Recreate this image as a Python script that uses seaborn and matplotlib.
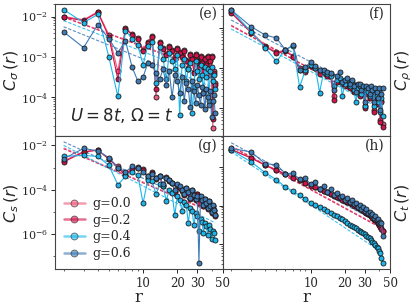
import numpy as np
import pandas as pd
import matplotlib
matplotlib.use("Agg")
import matplotlib.pyplot as plt
from matplotlib.lines import Line2D
from matplotlib.ticker import FixedLocator, NullFormatter, ScalarFormatter, LogLocator
import seaborn as sns

# --- DATA (log10 of the correlation values) ---
r = [2, 3, 4, 5, 6, 7, 8, 9, 10, 11,
     12, 13, 14, 15, 16, 17, 18, 19, 20, 21,
     22, 23, 24, 25, 26, 27, 28, 29, 30, 31,
     32, 33, 34, 35, 36, 37, 38, 39, 40, 41,
     42, 43]
g_labels = ["g=0.0", "g=0.2", "g=0.4", "g=0.6"]
colors = ["#ef5a7e", "#d3124a", "#1cb6ec", "#3f7bb6"]

# C_sigma(r)
sigma_g00 = [-2.00, -2.08, -1.88, -2.45, -3.35, -2.28, -2.43, -2.52, -2.82, -2.62,
             -2.48, -4.00, -2.62, -2.78, -2.92, -2.72, -2.82, -3.00, -2.78, -2.88,
             -2.98, -2.82, -3.08, -3.28, -2.92, -3.02, -3.38, -2.92, -3.08, -3.22,
             -2.98, -3.12, -3.30, -3.02, -3.18, -2.98, -3.40, -3.08, -2.98, -4.75,
             -3.35, -3.65]
sigma_g02 = [-2.02, -2.10, -1.90, -2.50, -3.55, -2.30, -2.45, -2.55, -2.85, -2.65,
             -2.50, -3.80, -2.65, -2.80, -2.95, -2.75, -2.85, -3.05, -2.80, -2.90,
             -3.00, -2.85, -3.10, -3.30, -2.95, -3.05, -3.40, -2.95, -3.10, -3.25,
             -3.00, -3.15, -3.35, -3.05, -3.20, -3.00, -3.45, -3.10, -3.00, -4.55,
             -3.40, -3.70]
sigma_g04 = [-1.83, -2.15, -1.95, -3.00, -3.98, -2.35, -2.55, -2.70, -3.20, -2.72,
             -2.62, -3.65, -2.75, -3.05, -3.55, -2.90, -3.10, -3.30, -2.95, -4.45,
             -3.20, -3.05, -3.60, -3.30, -3.15, -4.40, -3.75, -3.10, -3.35, -3.55,
             -3.20, -3.45, -3.90, -3.25, -3.50, -3.30, -4.10, -3.35, -3.25, -3.60,
             -3.45, -3.80]
sigma_g06 = [-2.38, -2.77, -2.20, -2.55, -2.90, -2.60, -3.25, -3.60, -3.50, -3.15,
             -3.20, -3.40, -3.55, -3.30, -3.70, -3.35, -4.00, -3.45, -3.60, -3.90,
             -3.50, -4.10, -3.65, -3.80, -4.25, -3.60, -3.85, -4.15, -3.70, -3.95,
             -4.20, -3.75, -3.90, -4.30, -3.80, -4.00, -4.20, -3.85, -4.50, -4.10,
             -3.95, -4.40]

# C_rho(r)
rho_g00 = [-0.60, -1.10, -1.45, -1.60, -1.56, -1.70, -2.00, -2.08, -1.93, -1.98,
           -2.12, -2.08, -2.18, -2.15, -2.70, -2.32, -2.28, -2.38, -2.42, -2.33,
           -2.48, -2.38, -2.58, -2.43, -2.52, -2.68, -2.48, -2.58, -2.95, -2.52,
           -2.62, -2.72, -2.58, -2.68, -3.05, -2.62, -2.72, -2.88, -2.68, -3.30,
           -2.82, -3.40]
rho_g02 = [-0.62, -1.12, -1.48, -1.62, -1.58, -1.72, -2.05, -2.10, -1.95, -2.00,
           -2.15, -2.10, -2.20, -2.18, -2.80, -2.35, -2.30, -2.40, -2.45, -2.35,
           -2.50, -2.40, -2.60, -2.45, -2.55, -2.70, -2.50, -2.60, -3.00, -2.55,
           -2.65, -2.75, -2.60, -2.70, -3.10, -2.65, -2.75, -2.90, -2.70, -3.35,
           -2.85, -3.48]
rho_g04 = [-0.55, -1.10, -1.50, -1.84, -1.55, -1.45, -2.48, -2.05, -1.92, -2.00,
           -2.62, -2.10, -2.15, -2.20, -2.45, -2.30, -2.25, -2.70, -2.40, -2.30,
           -2.45, -2.35, -2.55, -2.85, -2.50, -2.45, -2.65, -2.55, -2.95, -2.50,
           -2.60, -2.70, -2.55, -2.65, -2.95, -2.60, -2.70, -2.85, -2.60, -3.10,
           -2.75, -3.20]
rho_g06 = [-0.55, -0.97, -1.18, -1.25, -1.55, -1.43, -2.05, -1.98, -1.85, -1.95,
           -2.05, -2.05, -2.10, -2.12, -2.55, -2.20, -2.10, -2.35, -2.30, -2.25,
           -2.40, -2.30, -2.45, -2.60, -2.40, -2.40, -2.55, -2.45, -2.85, -2.45,
           -2.50, -2.65, -2.45, -2.55, -2.85, -2.50, -2.60, -2.75, -2.50, -3.05,
           -2.65, -2.50]

# C_s(r)
s_g00 = [-2.70, -2.28, -2.20, -2.60, -2.95, -3.30, -3.02, -2.98, -3.08, -3.40,
         -3.22, -3.48, -3.38, -3.80, -3.42, -3.58, -3.68, -4.05, -3.78, -3.88,
         -4.02, -4.20, -3.92, -4.12, -4.35, -4.02, -4.28, -4.42, -4.18, -4.55,
         -4.32, -4.48, -4.70, -4.42, -4.62, -4.80, -4.52, -4.78, -5.00, -4.72,
         -4.92, -5.15]
s_g02 = [-2.75, -2.30, -2.22, -2.62, -3.00, -3.35, -3.05, -3.00, -3.10, -3.45,
         -3.25, -3.50, -3.40, -3.85, -3.45, -3.60, -3.70, -4.10, -3.80, -3.90,
         -4.05, -4.25, -3.95, -4.15, -4.40, -4.05, -4.30, -4.45, -4.20, -4.60,
         -4.35, -4.50, -4.75, -4.45, -4.65, -4.85, -4.55, -4.80, -5.05, -4.75,
         -4.95, -5.20]
s_g04 = [-2.50, -2.45, -2.50, -2.90, -3.77, -3.40, -3.20, -3.35, -4.60, -3.55,
         -3.60, -4.20, -3.75, -3.85, -4.50, -4.00, -4.15, -5.15, -4.30, -4.45,
         -4.95, -4.55, -4.70, -5.50, -4.80, -4.95, -5.60, -5.05, -5.20, -5.85,
         -5.30, -5.45, -5.95, -5.50, -5.65, -6.05, -5.60, -5.75, -6.20, -5.85,
         -5.95, -6.25]
s_g06 = [-2.60, -2.14, -2.25, -2.55, -3.00, -3.20, -2.95, -3.00, -3.20, -3.40,
         -3.30, -3.45, -3.40, -3.75, -3.45, -3.55, -3.70, -4.00, -3.75, -3.85,
         -4.00, -4.20, -3.90, -4.10, -4.35, -4.00, -4.25, -4.40, -4.30, -7.30,
         -4.30, -4.45, -4.70, -4.40, -4.60, -4.80, -4.50, -4.75, -5.00, -4.70,
         -4.90, -5.15]

# C_t(r)
t_g00 = [-0.54, -0.76, -0.95, -1.07, -1.18, -1.27, -1.34, -1.41, -1.47, -1.52,
         -1.57, -1.61, -1.65, -1.69, -1.73, -1.77, -1.80, -1.84, -1.87, -1.90,
         -1.93, -1.96, -1.99, -2.01, -2.04, -2.07, -2.09, -2.12, -2.15, -2.18,
         -2.21, -2.24, -2.27, -2.30, -2.34, -2.37, -2.41, -2.45, -2.49, -2.54,
         -2.59, -2.65]
t_g02 = [-0.55, -0.77, -0.96, -1.08, -1.19, -1.28, -1.35, -1.42, -1.48, -1.53,
         -1.58, -1.62, -1.66, -1.70, -1.74, -1.78, -1.81, -1.85, -1.88, -1.91,
         -1.94, -1.97, -2.00, -2.02, -2.05, -2.08, -2.10, -2.13, -2.16, -2.19,
         -2.22, -2.25, -2.28, -2.31, -2.35, -2.38, -2.42, -2.46, -2.50, -2.55,
         -2.60, -2.67]
t_g04 = [-0.56, -0.87, -1.15, -1.33, -1.52, -1.63, -1.73, -1.82, -1.92, -1.98,
         -2.04, -2.10, -2.15, -2.20, -2.24, -2.28, -2.32, -2.36, -2.41, -2.45,
         -2.49, -2.52, -2.56, -2.59, -2.62, -2.65, -2.68, -2.71, -2.74, -2.78,
         -2.81, -2.85, -2.89, -2.93, -2.97, -3.01, -3.06, -3.11, -3.18, -3.24,
         -3.35, -3.49]
t_g06 = [-0.52, -0.61, -0.92, -0.94, -1.17, -1.16, -1.32, -1.29, -1.45, -1.40,
         -1.56, -1.50, -1.64, -1.58, -1.72, -1.68, -1.79, -1.74, -1.85, -1.80,
         -1.91, -1.86, -1.97, -1.92, -2.03, -1.98, -2.08, -2.04, -2.13, -2.10,
         -2.19, -2.16, -2.25, -2.22, -2.31, -2.28, -2.38, -2.35, -2.45, -2.42,
         -2.45, -2.80]

# power-law fits: log10 C = icpt + slope * log10 r
fit_slope_sigma = [-1.04, -1.05, -1.10, -1.14]
fit_icpt_sigma = [-1.69, -1.70, -1.77, -1.91]
fit_slope_rho = [-1.56, -1.55, -1.52, -1.50]
fit_icpt_rho = [-0.46, -0.48, -0.57, -0.35]
fit_slope_s = [-2.20, -2.20, -2.62, -2.35]
fit_icpt_s = [-1.45, -1.49, -1.21, -1.13]
fit_slope_t = [-1.60, -1.60, -1.97, -1.60]
fit_icpt_t = [0.03, 0.01, -0.01, 0.11]


# --- PLOTTING ---
def draw_panel(ax, series, icpt, slope):
    rr = np.array([r[0], r[-1]], dtype=float)
    for c, a, b in zip(colors, icpt, slope):
        ax.plot(rr, 10 ** (a + b * np.log10(rr)), ls=(0, (3, 1.5)), color=c, lw=0.8, alpha=0.85, zorder=1)
    rows = []
    for lab, vals in zip(g_labels, series):
        assert len(vals) == len(r)
        rows += [(ri, 10 ** v, lab) for ri, v in zip(r, vals)]
    df = pd.DataFrame(rows, columns=["r", "C", "g"])
    sns.lineplot(data=df, x="r", y="C", hue="g", hue_order=g_labels, palette=colors,
                 marker="o", markersize=3.6, mec="#1a1a1a", mew=0.6, lw=0.8,
                 estimator=None, legend=False, ax=ax, zorder=2)
    ax.set_yscale("log")


sns.set_style("ticks")
plt.rcParams["font.family"] = ["DejaVu Serif"]
plt.rcParams["mathtext.fontset"] = "dejavusans"

fig, axes = plt.subplots(2, 2, figsize=(4.15, 3.07), dpi=100, sharex=True)
fig.subplots_adjust(left=0.1325, right=0.94, top=0.987, bottom=0.124, wspace=0, hspace=0)
ax_e, ax_f = axes[0]
ax_g, ax_h = axes[1]

draw_panel(ax_e, [sigma_g00, sigma_g02, sigma_g04, sigma_g06], fit_icpt_sigma, fit_slope_sigma)
draw_panel(ax_f, [rho_g00, rho_g02, rho_g04, rho_g06], fit_icpt_rho, fit_slope_rho)
draw_panel(ax_g, [s_g00, s_g02, s_g04, s_g06], fit_icpt_s, fit_slope_s)
draw_panel(ax_h, [t_g00, t_g02, t_g04, t_g06], fit_icpt_t, fit_slope_t)

ax_e.set_ylim(10 ** -4.97, 10 ** -1.69)
ax_f.set_ylim(10 ** -3.72, 10 ** -0.40)
ax_g.set_ylim(10 ** -7.56, 10 ** -1.60)
ax_h.set_ylim(10 ** -3.64, 10 ** -0.21)

ax_g.yaxis.set_major_locator(FixedLocator([1e-2, 1e-4, 1e-6]))
ax_g.yaxis.set_minor_locator(FixedLocator([1e-3, 1e-5, 1e-7]))
ax_g.yaxis.set_minor_formatter(NullFormatter())

for ax in axes.flat:
    ax.set_xscale("log")
    ax.set_xlim(1.68, 50)
    ax.xaxis.set_major_locator(FixedLocator([10, 20, 30, 50]))
    ax.xaxis.set_major_formatter(ScalarFormatter())
    ax.xaxis.set_minor_locator(LogLocator(base=10, subs=np.arange(2, 10)))
    ax.xaxis.set_minor_formatter(NullFormatter())
    ax.tick_params(length=3, width=0.7)
    ax.tick_params(axis="x", labelsize=8.5, pad=3)
    ax.tick_params(axis="y", labelsize=8, pad=2)
    ax.tick_params(which="minor", length=1.5, width=0.5)
    ax.set_xlabel("")
    ax.set_ylabel("")
    for sp in ax.spines.values():
        sp.set_linewidth(0.8)
        sp.set_color("#444444")

for ax in (ax_f, ax_h):
    ax.tick_params(labelleft=False)
    ax.yaxis.set_label_position("right")

ax_g.set_xlabel("r", fontsize=12)
ax_h.set_xlabel("r", fontsize=12)
ax_e.set_ylabel(r"$C_\sigma\,(r)$", fontsize=11.5)
ax_g.set_ylabel(r"$C_s\,(r)$", fontsize=11.5)
ax_f.set_ylabel(r"$C_\rho\,(r)$", fontsize=11.5)
ax_h.set_ylabel(r"$C_t\,(r)$", fontsize=11.5)
for ax in (ax_g, ax_h):
    ax.xaxis.set_label_coords(0.5, -0.155)
for ax in (ax_e, ax_g):
    ax.yaxis.set_label_coords(-0.2, 0.5)
for ax in (ax_f, ax_h):
    ax.yaxis.set_label_coords(1.02, 0.5)

for ax, letter in zip([ax_e, ax_f, ax_g, ax_h], ["(e)", "(f)", "(g)", "(h)"]):
    ax.text(0.97, 0.93, letter, transform=ax.transAxes, ha="right", va="center", fontsize=10)

ax_e.text(0.09, 0.16, r"$U=8t,\,\Omega=t$", transform=ax_e.transAxes, ha="left", va="center",
          fontsize=12, family=["DejaVu Sans"])

handles = [Line2D([], [], color=c, lw=1.8, alpha=0.6, marker="o", markersize=5,
                  markerfacecolor=c, markeredgecolor="#1a1a1a", markeredgewidth=0.6)
           for c in colors]
ax_g.legend(handles, g_labels, loc="lower left", bbox_to_anchor=(0.0, 0.0), frameon=False,
            fontsize=9, handlelength=1.7, labelspacing=0.3, handletextpad=0.6, borderaxespad=0.3)

plt.savefig("out.png", dpi=100)
plt.close()
